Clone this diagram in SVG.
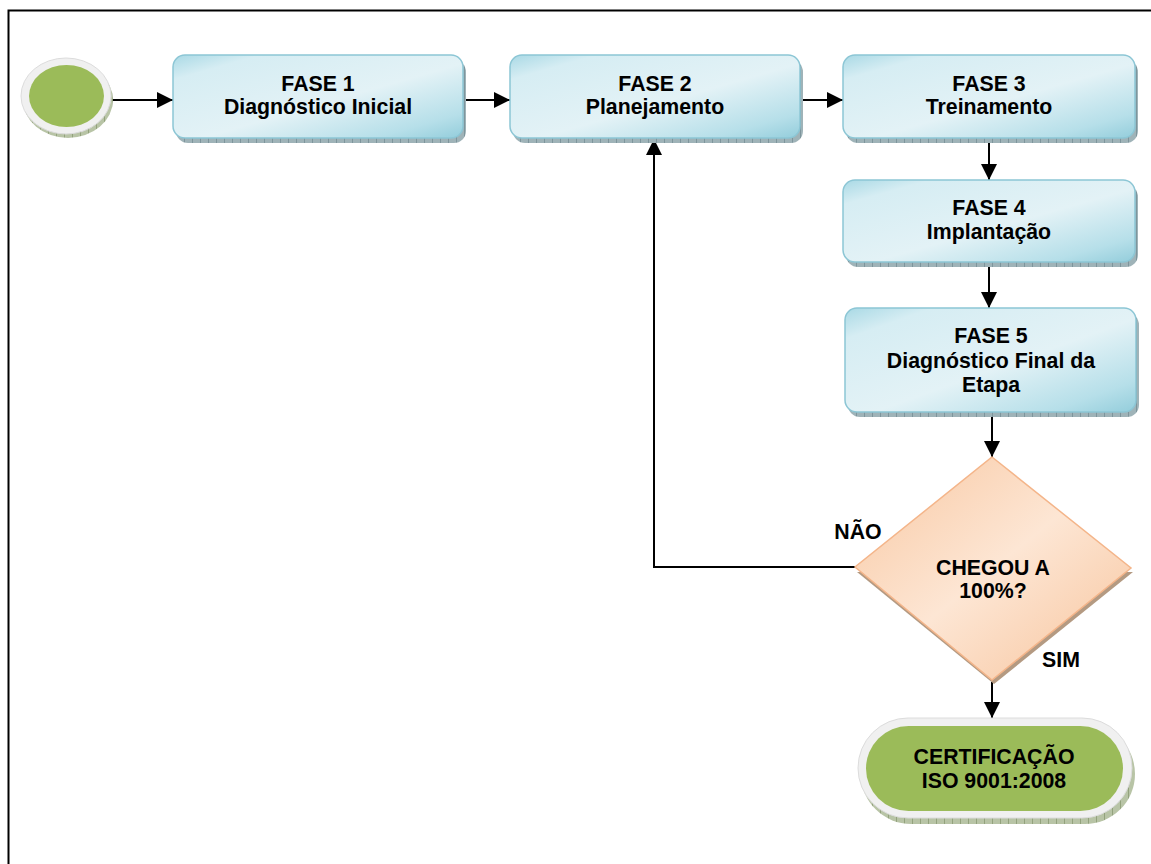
<svg xmlns="http://www.w3.org/2000/svg" width="1151" height="864" viewBox="0 0 1151 864">
<defs>
<linearGradient id="gBox" x1="0" y1="0" x2="1" y2="1">
<stop offset="0" stop-color="#a9d9e5"/>
<stop offset="0.15" stop-color="#d6edf3"/>
<stop offset="0.55" stop-color="#e3f2f6"/>
<stop offset="0.85" stop-color="#b6dfe9"/>
<stop offset="1" stop-color="#93cddb"/>
</linearGradient>
<linearGradient id="gDia" x1="0" y1="0" x2="1" y2="1">
<stop offset="0" stop-color="#f8c7a1"/>
<stop offset="0.5" stop-color="#fde6d4"/>
<stop offset="1" stop-color="#f7c39b"/>
</linearGradient>
<pattern id="hBlue" width="8" height="6" patternUnits="userSpaceOnUse">
<rect width="8" height="6" fill="#9fb3b8"/>
<path d="M0 0V6" stroke="#5d7880" stroke-width="1"/>
</pattern>
<pattern id="hGreen" width="8" height="6" patternUnits="userSpaceOnUse">
<rect width="8" height="6" fill="#b8c4a6"/>
<path d="M0 0V6" stroke="#6f8055" stroke-width="1"/>
</pattern>
<marker id="arr" viewBox="0 0 10 10" refX="10" refY="5" markerWidth="16" markerHeight="16" markerUnits="userSpaceOnUse" orient="auto">
<path d="M0 0L10 5L0 10Z" fill="#000"/>
</marker>
<style>
.box{fill:url(#gBox);stroke:#8cc6d5;stroke-width:1.5}
.sh{fill:url(#hBlue)}
.t{font-family:"Liberation Sans",Arial,sans-serif;font-weight:bold;font-size:21.3px;fill:#000;text-anchor:middle}
.c{fill:none;stroke:#000;stroke-width:2}
</style>
</defs>
<rect x="8.5" y="10.5" width="1160" height="870" fill="#fff" stroke="#000" stroke-width="2"/>

<g id="connectors">
<line class="c" x1="112" y1="100" x2="173" y2="100" marker-end="url(#arr)"/>
<line class="c" x1="465" y1="100" x2="510" y2="100" marker-end="url(#arr)"/>
<line class="c" x1="802" y1="100" x2="843" y2="100" marker-end="url(#arr)"/>
<line class="c" x1="989" y1="141" x2="989" y2="180" marker-end="url(#arr)"/>
<line class="c" x1="989" y1="265" x2="989" y2="308" marker-end="url(#arr)"/>
<line class="c" x1="992" y1="415" x2="992" y2="457" marker-end="url(#arr)"/>
<line class="c" x1="992" y1="682" x2="992" y2="718" marker-end="url(#arr)"/>
<polyline class="c" points="855,567 654,567 654,139" marker-end="url(#arr)"/>
</g>

<g id="start">
<ellipse cx="68" cy="100" rx="45" ry="38" fill="url(#hGreen)"/>
<ellipse cx="66" cy="96" rx="45" ry="38" fill="#f0f0f0" stroke="#dcdcdc" stroke-width="1"/>
<ellipse cx="66.5" cy="96" rx="37.5" ry="31" fill="#9bbb59"/>
</g>

<g id="fase1">
<rect class="sh" x="176" y="60" width="290" height="83" rx="12"/>
<rect class="box" x="173" y="55" width="290" height="83" rx="12"/>
<text class="t" x="318" y="91">FASE 1</text>
<text class="t" x="318" y="114">Diagnóstico Inicial</text>
</g>

<g id="fase2">
<rect class="sh" x="513" y="60" width="290" height="83" rx="12"/>
<rect class="box" x="510" y="55" width="290" height="83" rx="12"/>
<text class="t" x="655" y="91">FASE 2</text>
<text class="t" x="655" y="114">Planejamento</text>
</g>

<g id="fase3">
<rect class="sh" x="846" y="60" width="292" height="83" rx="12"/>
<rect class="box" x="843" y="55" width="292" height="83" rx="12"/>
<text class="t" x="989" y="91">FASE 3</text>
<text class="t" x="989" y="114">Treinamento</text>
</g>

<g id="fase4">
<rect class="sh" x="846" y="185" width="292" height="82" rx="12"/>
<rect class="box" x="843" y="180" width="292" height="82" rx="12"/>
<text class="t" x="989" y="215">FASE 4</text>
<text class="t" x="989" y="239">Implantação</text>
</g>

<g id="fase5">
<rect class="sh" x="848" y="313" width="291" height="104" rx="12"/>
<rect class="box" x="845" y="308" width="291" height="104" rx="12"/>
<text class="t" x="991" y="343">FASE 5</text>
<text class="t" x="991" y="368">Diagnóstico Final da</text>
<text class="t" x="991" y="392">Etapa</text>
</g>

<g id="decision">
<polygon points="857,572 1133,572 994,684" fill="#b49a82"/>
<polygon points="992,457 1131,568 992,680 855,567" fill="url(#gDia)" stroke="#f4b58a" stroke-width="1.5"/>
<text class="t" x="993" y="575">CHEGOU A</text>
<text class="t" x="993" y="598">100%?</text>
</g>

<g id="labels">
<text class="t" x="858" y="539">NÃO</text>
<text class="t" x="1061" y="667">SIM</text>
</g>

<g id="cert">
<rect x="861" y="724" width="274" height="100" rx="50" fill="url(#hGreen)"/>
<rect x="858" y="718" width="274" height="100" rx="50" fill="#f0f0f0" stroke="#dcdcdc" stroke-width="1"/>
<rect x="866" y="726" width="257" height="85" rx="42.5" fill="#9bbb59"/>
<text class="t" x="994" y="764">CERTIFICAÇÃO</text>
<text class="t" x="994" y="788">ISO 9001:2008</text>
</g>
</svg>
